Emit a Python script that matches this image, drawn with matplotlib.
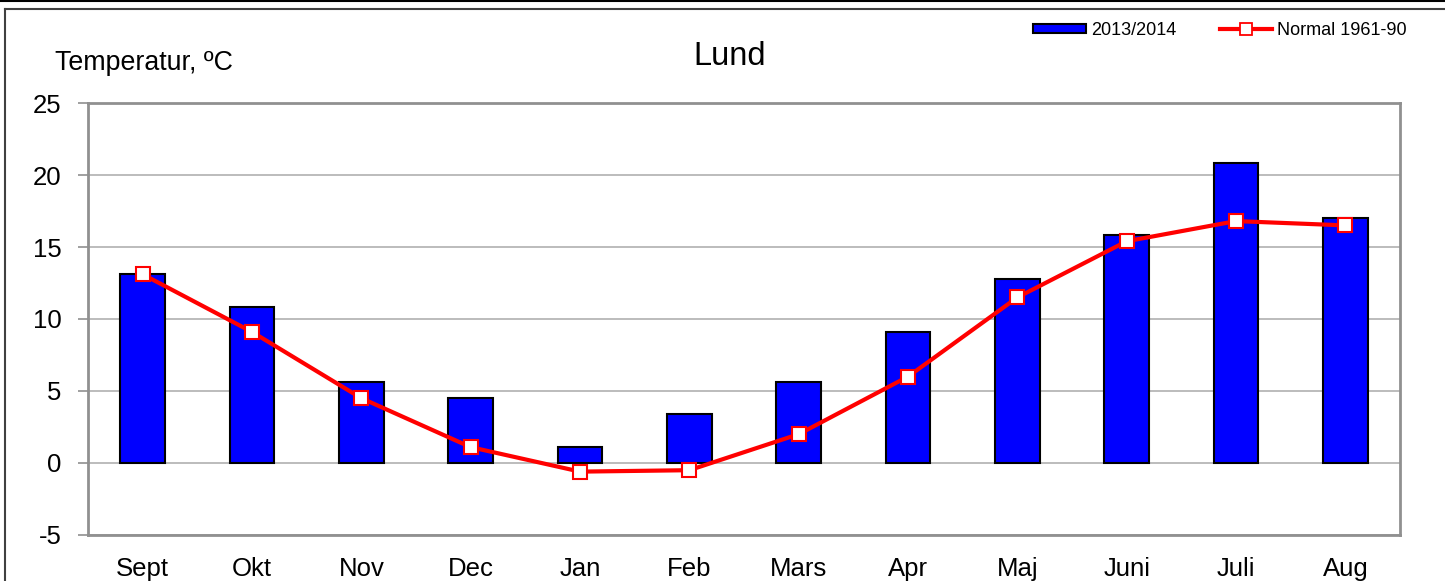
import matplotlib.pyplot as plt
from matplotlib.lines import Line2D
from matplotlib.patches import Patch
import numpy as np

plt.rcParams['font.family'] = ['Liberation Sans', 'DejaVu Sans']
plt.rcParams['axes.unicode_minus'] = False

months = ['Sept', 'Okt', 'Nov', 'Dec', 'Jan', 'Feb', 'Mars', 'Apr', 'Maj', 'Juni', 'Juli', 'Aug']
temp_2013_14 = [13.1, 10.8, 5.6, 4.5, 1.1, 3.4, 5.6, 9.1, 12.8, 15.8, 20.8, 17.0]
normal_61_90 = [13.1, 9.1, 4.5, 1.1, -0.6, -0.5, 2.0, 6.0, 11.5, 15.4, 16.8, 16.5]
yticks = [-5, 0, 5, 10, 15, 20, 25]

fig = plt.figure(figsize=(14.45, 5.81), dpi=100)
ax = fig.add_axes([0.0609, 0.0792, 0.908, 0.7435])

x = np.arange(len(months))
ax.bar(x, temp_2013_14, width=0.41, color='#0000ff', edgecolor='black',
       linewidth=1.5, zorder=3, label='2013/2014')
ax.plot(x, normal_61_90, color='#ff0000', lw=3, marker='s', markersize=10,
        markerfacecolor='white', markeredgecolor='#ff0000', markeredgewidth=1.5,
        zorder=4, label='Normal 1961-90')

ax.set_xlim(-0.5, 11.5)
ax.set_ylim(-5, 25)
ax.set_yticks(yticks)
ax.set_xticks(x)
ax.set_xticklabels(months)
ax.grid(axis='y', color='#b0b0b0', lw=1.2, zorder=0)
ax.set_axisbelow(True)
for s in ['left', 'right', 'top', 'bottom']:
    ax.spines[s].set_color('#909090')
    ax.spines[s].set_linewidth(2)
ax.tick_params(axis='y', length=7, width=1.2, color='#909090', pad=12, labelsize=18.5)
ax.tick_params(axis='x', length=0, pad=15.5, labelsize=18.5)

fig.text(0.505, 0.903, 'Lund', ha='center', va='center', fontsize=23.5)
fig.text(0.038, 0.891, 'Temperatur, ºC', ha='left', va='center', fontsize=19.3)

# legend handles
h1 = Patch(facecolor='#0000ff', edgecolor='black', linewidth=1.5)
h2 = Line2D([0], [0], color='#ff0000', lw=3, marker='s', markersize=8,
            markerfacecolor='white', markeredgecolor='#ff0000', markeredgewidth=1.3)
fig.legend([h1, h2], ['2013/2014', 'Normal 1961-90'], ncol=2, loc='center right',
           bbox_to_anchor=(0.985, 0.948), frameon=False, fontsize=13,
           handlelength=2.9, handleheight=0.35, handletextpad=0.3, columnspacing=2.4)

# outer frame lines
fig.add_artist(Line2D([0, 1], [0.998, 0.998], color='black', lw=1.5, transform=fig.transFigure))
fig.add_artist(Line2D([0.0035, 1], [0.984, 0.984], color='#404040', lw=1.5, transform=fig.transFigure))
fig.add_artist(Line2D([0.0035, 0.0035], [0, 0.984], color='#404040', lw=1.5, transform=fig.transFigure))

fig.savefig('out.png', dpi=100)
